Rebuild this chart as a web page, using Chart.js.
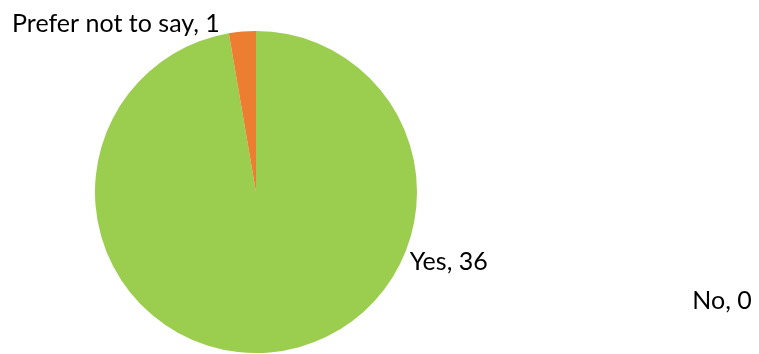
<!DOCTYPE html>
<html>
<head>
<meta charset="utf-8">
<script src="https://cdn.jsdelivr.net/npm/chart.js@4"></script>
<style>
  html, body { margin: 0; padding: 0; background: #fff; }
  #wrap { width: 759px; height: 354px; }
</style>
</head>
<body>
<div id="wrap"><canvas id="pieChart" width="759" height="354"></canvas></div>
<script>
const answers = ["Yes", "Prefer not to say", "No"];
const counts = [36, 1, 0];
const sliceColors = ["#9BCD4F", "#ED7D31", "#A5A5A5"];

// label anchors (left end of baseline) relative to pie centre, in radii
const labelSpots = [
  { dx: 0.955, dy: 0.485 },
  { dx: -1.515, dy: -0.994 },
  { dx: 2.71, dy: 0.727 },
];

const pieLabels = {
  id: "pieLabels",
  afterDatasetsDraw(chart) {
    const ctx = chart.ctx;
    const arc = chart.getDatasetMeta(0).data[0];
    const cx = arc.x, cy = arc.y, r = arc.outerRadius;
    ctx.save();
    ctx.font = "25px Lato";
    ctx.fillStyle = "#000";
    ctx.textAlign = "left";
    ctx.textBaseline = "alphabetic";
    answers.forEach((a, i) => {
      const s = labelSpots[i];
      ctx.fillText(a + ", " + counts[i], cx + s.dx * r, cy + s.dy * r);
    });
    ctx.restore();
  }
};

new Chart(document.getElementById("pieChart"), {
  type: "pie",
  data: {
    labels: answers,
    datasets: [{
      data: counts,
      backgroundColor: sliceColors,
      borderWidth: 0,
    }],
  },
  options: {
    responsive: false,
    animation: false,
    layout: { padding: { left: 95, right: 342, top: 31, bottom: 1 } },
    plugins: {
      legend: { display: false },
      tooltip: { enabled: false },
    },
  },
  plugins: [pieLabels],
});
</script>
</body>
</html>
